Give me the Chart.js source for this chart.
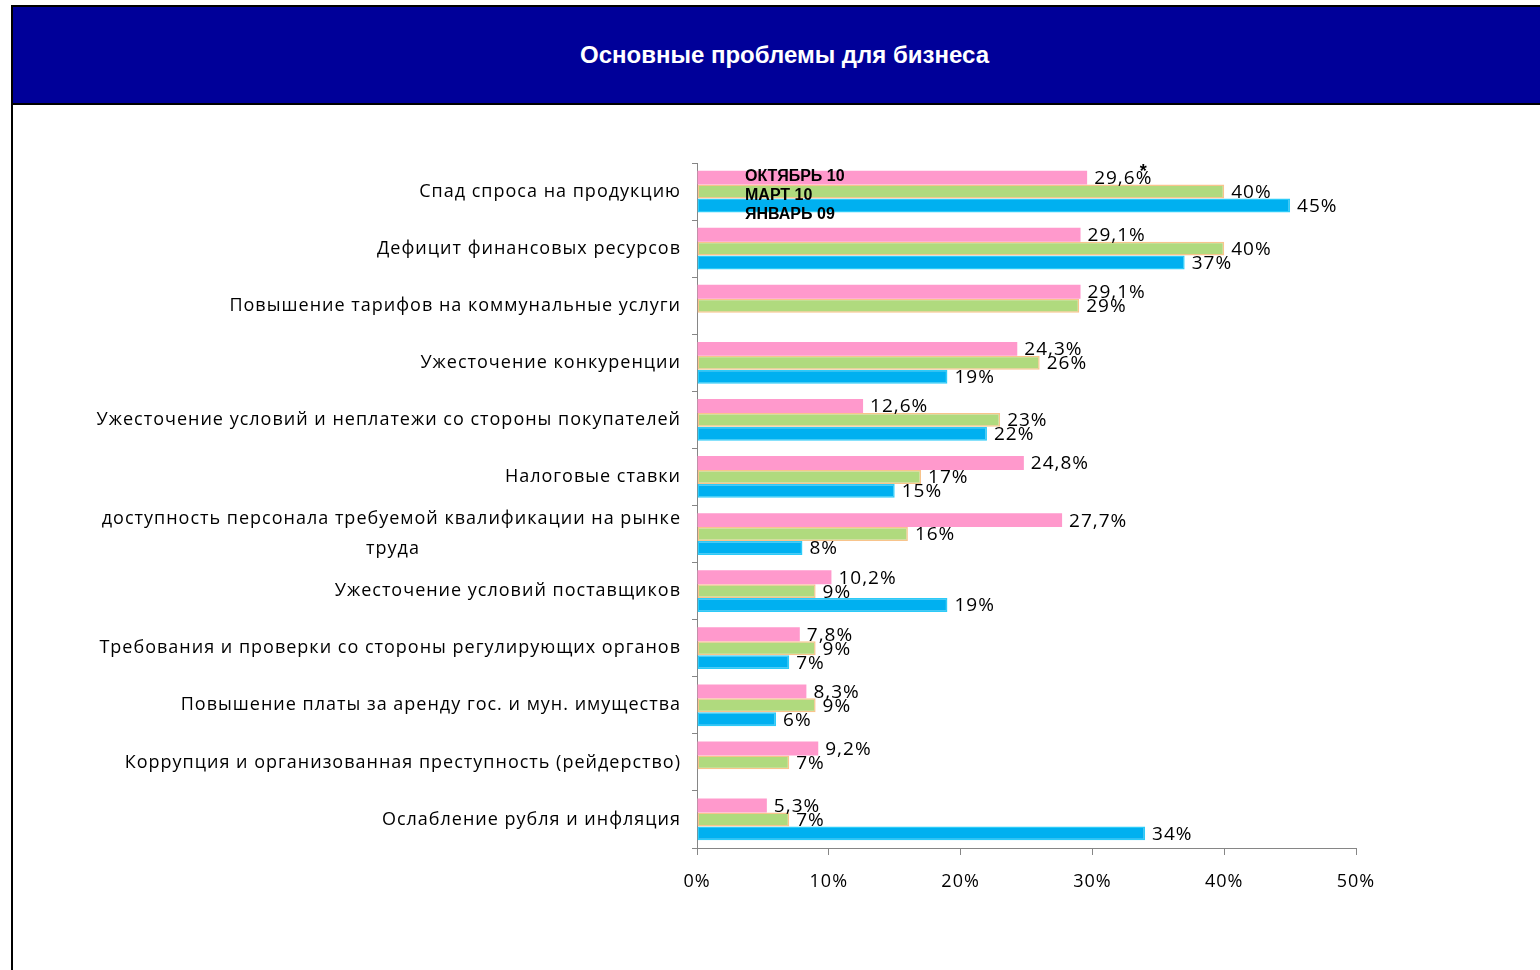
<!DOCTYPE html>
<html><head><meta charset="utf-8">
<script src="https://cdn.jsdelivr.net/npm/chart.js@4/dist/chart.umd.min.js"></script>
<style>
html,body{margin:0;padding:0;background:#fff;width:1540px;height:970px;overflow:hidden;}
#hdr{position:absolute;left:11px;top:5px;width:1529px;height:96px;background:#000099;border-top:2px solid #000;border-left:2px solid #000;border-bottom:2px solid #000;}
#hdr div{position:absolute;left:14px;right:0;top:34px;text-align:center;color:#fff;font:bold 24px "Liberation Sans",Arial,sans-serif;}
#lline{position:absolute;left:11px;top:100px;width:2px;height:870px;background:#000;}
#c{position:absolute;left:0;top:0;}
</style></head>
<body>
<div id="hdr"><div>Основные проблемы для бизнеса</div></div>
<div id="lline"></div>
<canvas id="c" width="1540" height="970"></canvas>
<script>
const categories = [
  "Спад спроса на продукцию",
  "Дефицит финансовых ресурсов",
  "Повышение тарифов на коммунальные услуги",
  "Ужесточение конкуренции",
  "Ужесточение условий и неплатежи со стороны покупателей",
  "Налоговые ставки",
  ["доступность персонала требуемой квалификации на рынке", "труда"],
  "Ужесточение условий поставщиков",
  "Требования и проверки со стороны регулирующих органов",
  "Повышение платы за аренду гос. и мун. имущества",
  "Коррупция и организованная преступность (рейдерство)",
  "Ослабление рубля и инфляция"
];
const seriesNames = ["ОКТЯБРЬ 10", "МАРТ 10", "ЯНВАРЬ 09"];
const oct10 = [29.6, 29.1, 29.1, 24.3, 12.6, 24.8, 27.7, 10.2, 7.8, 8.3, 9.2, 5.3];
const mar10 = [40, 40, 29, 26, 23, 17, 16, 9, 9, 9, 7, 7];
const jan09 = [45, 37, null, 19, 22, 15, 8, 19, 7, 6, null, 34];
const xTicks = [0, 10, 20, 30, 40, 50];
const decimalsBySeries = [1, 0, 0];

const fmt = (v, d) => v.toFixed(d).replace('.', ',') + '%';

// center wrapped continuation lines under the first line (right-aligned axis text)
const mctx = document.createElement('canvas').getContext('2d');
mctx.font = '18px "Open Sans", sans-serif';
mctx.letterSpacing = '1px';
function centerLines(lbl) {
  if (!Array.isArray(lbl)) return lbl;
  const w0 = mctx.measureText(lbl[0]).width;
  const sp = mctx.measureText('\u00A0').width;
  return lbl.map((l, k) => {
    if (k === 0) return l;
    const w = mctx.measureText(l).width;
    const n = Math.max(0, Math.round(((w0 - w) / 2) / sp));
    return l + '\u00A0'.repeat(n);
  });
}

const spacingPlugin = {
  id: 'spacing',
  beforeDraw(chart) { chart.ctx.letterSpacing = '1px'; },
  beforeDatasetsDraw(chart) { chart.ctx.letterSpacing = '0px'; }
};

const labelPlugin = {
  id: 'labels',
  afterDatasetsDraw(chart) {
    const ctx = chart.ctx;
    ctx.save();
    ctx.letterSpacing = '1px';
    ctx.font = '19px "Open Sans", sans-serif';
    ctx.fillStyle = '#000';
    ctx.textAlign = 'left';
    ctx.textBaseline = 'middle';
    chart.data.datasets.forEach((ds, di) => {
      const meta = chart.getDatasetMeta(di);
      meta.data.forEach((bar, i) => {
        const v = ds.data[i];
        if (v === null || v === undefined) return;
        const txt = fmt(v, decimalsBySeries[di]);
        ctx.fillText(txt, bar.x + 7, bar.y + 1);
        if (di === 0 && i === 0) {
          const w = ctx.measureText(txt).width;
          ctx.save();
          ctx.letterSpacing = '0px';
          ctx.font = 'bold 18px "Liberation Sans", sans-serif';
          ctx.textAlign = 'center';
          ctx.fillText('*', bar.x + 7 + w - 9, bar.y - 6);
          ctx.restore();
        }
      });
    });
    const a = chart.chartArea;
    ctx.letterSpacing = '0px';
    ctx.font = 'bold 16px "Liberation Sans", Arial, sans-serif';
    ctx.textAlign = 'left';
    seriesNames.forEach((n, k) => {
      ctx.fillText(n, a.left + 48, a.top + 14 + k * 19);
    });
    ctx.restore();
  }
};

new Chart(document.getElementById('c'), {
  type: 'bar',
  data: {
    labels: categories,
    datasets: [
      { label: seriesNames[0], data: oct10, backgroundColor: '#FF99CC', borderWidth: 0 },
      { label: seriesNames[1], data: mar10, backgroundColor: '#B0DA7E', borderColor: '#F8C48C', borderWidth: 1.5, borderSkipped: false },
      { label: seriesNames[2], data: jan09, backgroundColor: '#00B0F0', borderColor: '#2CCBF8', borderWidth: 1.5, borderSkipped: false }
    ]
  },
  options: {
    indexAxis: 'y',
    responsive: false,
    animation: false,
    devicePixelRatio: 1,
    layout: { padding: { top: 163, right: 184, left: 0, bottom: 0 } },
    categoryPercentage: 0.73,
    barPercentage: 1.0,
    plugins: { legend: { display: false }, tooltip: { enabled: false }, title: { display: false } },
    scales: {
      x: {
        min: 0, max: 50,
        afterFit(s) { s.height = 970 - 848; },
        afterBuildTicks(s) { s.ticks = xTicks.map(v => ({ value: v })); },
        border: { display: true, color: '#868686', width: 1 },
        grid: { drawOnChartArea: false, drawTicks: true, tickLength: 7, color: '#868686' },
        ticks: { padding: 16, color: '#000', font: { family: '"Open Sans", sans-serif', size: 18 }, callback: v => v + '%' }
      },
      y: {
        afterFit(s) { s.width = 697; },
        border: { display: true, color: '#868686', width: 1 },
        grid: { drawOnChartArea: false, drawTicks: true, tickLength: 5, color: '#868686', offset: true },
        ticks: {
          autoSkip: false, padding: 11, color: '#000',
          font: { family: '"Open Sans", sans-serif', size: 18, lineHeight: 1.65 },
          callback: function (v) { return centerLines(this.getLabelForValue(v)); }
        }
      }
    }
  },
  plugins: [spacingPlugin, labelPlugin]
});
</script>
</body></html>
